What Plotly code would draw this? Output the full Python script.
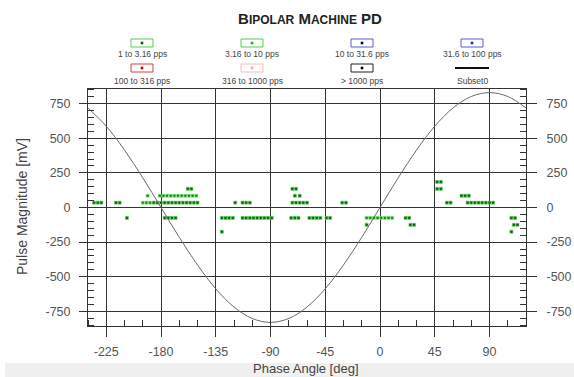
import plotly.graph_objects as go

W, H = 574, 377
L, R, T, B = 88, 48, 89, 51
PW, PH = W - L - R, H - T - B

phase_range = [-240, 120]
mag_range = [-856, 856]
x_ticks = [-225, -180, -135, -90, -45, 0, 45, 90]
x_tick_labels = ["-225", "-180", "-135", "-90", "-45", "0", "45", "90"]
y_ticks = [750, 500, 250, 0, -250, -500, -750]
y_tick_labels = ["750", "500", "250", "0", "-250", "-500", "-750"]

# Subset0 reference line, read at 15 degree steps
ref_phase = [-240, -225, -210, -195, -180, -165, -150, -135, -120, -105, -90, -75, -60,
             -45, -30, -15, 0, 15, 30, 45, 60, 75, 90, 105, 120]
ref_mag = [719, 587, 415, 215, 0, -215, -415, -587, -719, -802, -830, -802, -719,
           -587, -415, -215, 0, 215, 415, 587, 719, 802, 830, 802, 719]

# 1 to 3.16 pps
s1_phase = [-235, -232, -229, -217, -214,
            -186, -183, -180, -177, -174, -171, -168, -165, -162, -159, -156, -153, -150,
            -119, -113, -110, -107, -72, -69, -66, -63, -60, -31, -28, 55, 58,
            72, 75, 78, 81, 84, 87, 90, 93,
            -70, -66, 67, 70, 73,
            -158, -155, -72, -69,
            47, 50, 47, 50,
            -208, -177, -174, -171, -168, -130, -127, -124, -121,
            -113, -110, -107, -104, -101, -98, -95, -92, -89,
            -73, -70, -67, -58, -55, -52, -49, -44, -41,
            21, 24, 108, 111,
            -11, 25, 28, 110, 113,
            -130, 108]
s1_mag = [35, 35, 35, 35, 35,
          35, 35, 35, 35, 35, 35, 35, 35, 35, 35, 35, 35, 35,
          35, 35, 35, 35, 35, 35, 35, 35, 35, 35, 35, 35, 35,
          35, 35, 35, 35, 35, 35, 35, 35,
          85, 85, 85, 85, 85,
          135, 135, 135, 135,
          185, 185, 135, 135,
          -75, -75, -75, -75, -75, -75, -75, -75, -75,
          -75, -75, -75, -75, -75, -75, -75, -75, -75,
          -75, -75, -75, -75, -75, -75, -75, -75, -75,
          -75, -75, -75, -75,
          -125, -125, -125, -125, -125,
          -175, -175]

# 3.16 to 10 pps
s2_phase = [-195, -192, -189, -191, -181, -178, -175, -172, -169, -166, -163, -160, -157, -154, -151,
            -11, -8, -5, -2, 1, 4, 7, 10]
s2_mag = [35, 35, 35, 85, 85, 85, 85, 85, 85, 85, 85, 85, 85, 85, 85,
          -75, -75, -75, -75, -75, -75, -75, -75]

legend_names = ["1 to 3.16 pps", "3.16 to 10 pps", "10 to 31.6 pps", "31.6 to 100 pps",
                "100 to 316 pps", "316 to 1000 pps", "> 1000 pps", "Subset0"]
legend_box = ["#4fcf4f", "#4fcf4f", "#5a5ad0", "#5a5ad0", "#dd3a3a", "#ffb8b8", "#222222", None]
legend_dot = ["#005c00", "#22b022", "#000070", "#2a2ad0", "#c00000", "#ffa0a0", "#000000", None]

FONT = "Liberation Sans, Arial, sans-serif"
GRID = "#333333"


def px(x):
    return (x - L) / PW


def py(y):
    return (H - B - y) / PH


fig = go.Figure()
fig.add_trace(go.Scatter(x=ref_phase, y=ref_mag, mode="lines", line_shape="spline",
                         line=dict(color="#6a6a6a", width=1), yaxis="y2",
                         name="Subset0", hoverinfo="skip"))
fig.add_trace(go.Scatter(x=s1_phase, y=s1_mag, mode="markers", name=legend_names[0],
                         marker=dict(symbol="square", size=3, color="#0b5e0b",
                                     line=dict(color="#5fd05f", width=0.7))))
fig.add_trace(go.Scatter(x=s2_phase, y=s2_mag, mode="markers", name=legend_names[1],
                         marker=dict(symbol="square", size=3, color="#1a801a",
                                     line=dict(color="#7ff07f", width=0.7))))

shapes = []
annotations = []
col_cx = [142, 252, 362, 472]
row_box_y = [43, 68]
row_lbl_y = [54, 81]
for i, name in enumerate(legend_names):
    r, c = divmod(i, 4)
    cx, cy = col_cx[c], row_box_y[r]
    if legend_box[i] is not None:
        shapes.append(dict(type="rect", xref="paper", yref="paper",
                           x0=px(cx - 11), x1=px(cx + 11), y0=py(cy + 4), y1=py(cy - 4),
                           line=dict(color=legend_box[i], width=1), fillcolor="white"))
        shapes.append(dict(type="rect", xref="paper", yref="paper",
                           x0=px(cx - 1.3), x1=px(cx + 1.3), y0=py(cy + 1.3), y1=py(cy - 1.3),
                           line=dict(width=0), fillcolor=legend_dot[i]))
    else:
        shapes.append(dict(type="line", xref="paper", yref="paper",
                           x0=px(cx - 17), x1=px(cx + 17), y0=py(cy), y1=py(cy),
                           line=dict(color="#111111", width=2)))
    annotations.append(dict(text=name, xref="paper", yref="paper", x=px(cx), y=py(row_lbl_y[r]),
                            showarrow=False, xanchor="center", yanchor="middle",
                            font=dict(family=FONT, size=8.5, color="#444444")))

# bottom band
shapes.append(dict(type="rect", xref="paper", yref="paper", x0=px(5), x1=px(W), y0=py(363), y1=py(H),
                   line=dict(width=0), fillcolor="#f0f0f0", layer="below"))

annotations.append(dict(text="Pulse Magnitude [mV]", xref="paper", yref="paper",
                        x=px(22), y=py(207), textangle=-90, showarrow=False,
                        xanchor="center", yanchor="middle",
                        font=dict(family=FONT, size=14, color="#444444")))
annotations.append(dict(text="Phase Angle [deg]", xref="paper", yref="paper",
                        x=px(306), y=py(368), showarrow=False,
                        xanchor="center", yanchor="middle",
                        font=dict(family=FONT, size=13, color="#444444")))

title_text = ("B<span style='font-size:12px'>IPOLAR</span> M<span style='font-size:12px'>ACHINE</span> PD")

axis_common = dict(showline=True, linecolor=GRID, linewidth=1, zeroline=False, automargin=False,
                   tickfont=dict(family=FONT, size=12.5, color="#555555"),
                   tickcolor=GRID, tickwidth=1)

fig.update_layout(
    width=W, height=H, margin=dict(l=L, r=R, t=T, b=B, pad=0, autoexpand=False),
    paper_bgcolor="white", plot_bgcolor="white", showlegend=False,
    title=dict(text=title_text, x=310 / W, xanchor="center", y=1 - 19 / H, yanchor="middle",
               font=dict(family=FONT, size=15, color="#222222", weight="bold")),
    xaxis=dict(range=phase_range, tickvals=x_ticks, ticktext=x_tick_labels,
               ticks="outside", ticklen=10, ticklabelstandoff=4,
               showgrid=True, gridcolor=GRID, gridwidth=1, mirror=True,
               minor=dict(dtick=15, tick0=0, ticks="inside", ticklen=6, tickcolor=GRID, showgrid=False),
               **axis_common),
    yaxis=dict(range=mag_range, tickvals=y_ticks, ticktext=y_tick_labels,
               ticks="outside", ticklen=8, ticklabelstandoff=6,
               showgrid=True, gridcolor=GRID, gridwidth=1, mirror=True,
               minor=dict(dtick=50, tick0=0, ticks="inside", ticklen=6, tickcolor=GRID, showgrid=False),
               **axis_common),
    yaxis2=dict(range=mag_range, tickvals=y_ticks, ticktext=y_tick_labels, overlaying="y",
                side="right", anchor="x", ticks="outside", ticklen=10, ticklabelstandoff=7,
                showgrid=False,
                minor=dict(dtick=50, tick0=0, ticks="inside", ticklen=6, tickcolor=GRID, showgrid=False),
                **axis_common),
    shapes=shapes, annotations=annotations,
)

fig.write_html("out.html")
